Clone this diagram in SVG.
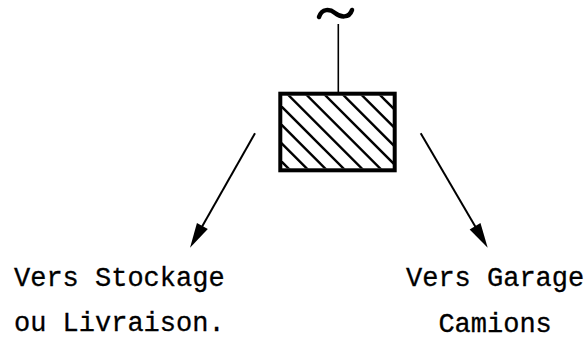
<svg xmlns="http://www.w3.org/2000/svg" width="588" height="344" viewBox="0 0 588 344">
  <style>
    .ink { stroke: #000; fill: none; }
    .label { font-family: "Liberation Mono", "DejaVu Sans Mono", monospace; font-size: 27px; fill: #000; stroke: #000; stroke-width: 0.3px; }
  </style>
  <defs>
    <marker id="head" markerUnits="userSpaceOnUse" markerWidth="30" markerHeight="20" viewBox="-12 -8 24 16" refX="0" refY="0" orient="auto">
      <path d="M9,0 L-11,-5 L-11,5 Z" fill="#000"/>
    </marker>
    <clipPath id="boxInner">
      <rect x="282" y="95.5" width="111" height="73"/>
    </clipPath>
  </defs>
  <rect width="588" height="344" fill="#fff"/>

  <!-- power source feeding the unit -->
  <g id="source">
    <path class="ink" d="M319,17 C322,8 330,9 335,13 S349,19 352,10" stroke-width="4.5" stroke-linecap="round"/>
    <line class="ink" x1="338.3" y1="24" x2="338.3" y2="92" stroke-width="1.6"/>
  </g>

  <!-- hatched unit -->
  <g id="unit">
    <g clip-path="url(#boxInner)" class="ink" stroke-width="2.4">
      <line x1="200" y1="80" x2="305" y2="185"/>
      <line x1="218.3" y1="80" x2="323.3" y2="185"/>
      <line x1="236.7" y1="80" x2="341.7" y2="185"/>
      <line x1="255" y1="80" x2="360" y2="185"/>
      <line x1="273.3" y1="80" x2="378.3" y2="185"/>
      <line x1="291.7" y1="80" x2="396.7" y2="185"/>
      <line x1="310" y1="80" x2="415" y2="185"/>
      <line x1="328.3" y1="80" x2="433.3" y2="185"/>
      <line x1="346.7" y1="80" x2="451.7" y2="185"/>
      <line x1="365" y1="80" x2="470" y2="185"/>
    </g>
    <rect class="ink" x="280.3" y="93.7" width="114.4" height="76.6" stroke-width="4"/>
  </g>

  <!-- outgoing flows -->
  <g id="connectors" class="ink" stroke-width="2">
    <line x1="255" y1="133.3" x2="195.6" y2="238" marker-end="url(#head)"/>
    <line x1="420.7" y1="133.3" x2="482" y2="238.1" marker-end="url(#head)"/>
  </g>

  <g id="storage">
    <text class="label" x="14" y="286">Vers Stockage</text>
    <text class="label" x="14" y="331">ou Livraison.</text>
  </g>

  <g id="garage">
    <text class="label" x="406" y="286">Vers Garage</text>
    <text class="label" x="438.4" y="332">Camions</text>
  </g>
</svg>
